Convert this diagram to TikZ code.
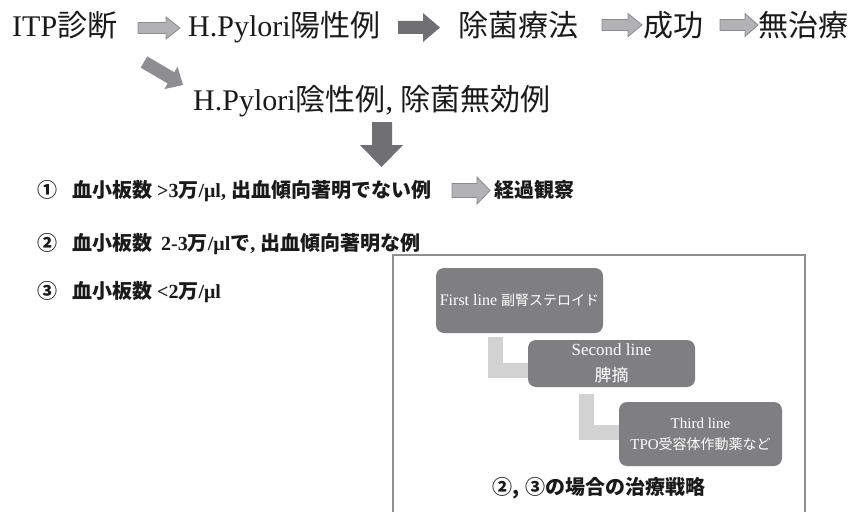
\documentclass[tikz,border=0pt]{standalone}
\usepackage{fontspec}
\setmainfont{Liberation Serif}
\newfontfamily\jp{Noto Sans CJK JP}
\usetikzlibrary{calc}
\definecolor{darkarrow}{HTML}{707072}
\definecolor{lightarrow}{HTML}{B2B2B4}
\definecolor{arrowedge}{HTML}{8C8C8E}
\definecolor{diagarrow}{HTML}{8E8E90}
\definecolor{boxfill}{HTML}{7F7F81}
\definecolor{connfill}{HTML}{D2D2D2}
\definecolor{framecol}{HTML}{8E8E90}
\definecolor{ink}{HTML}{1A1A1A}
% style, x0, x1, xhead, yc, shaft half, head half
\newcommand\blockarr[7]{%
  \filldraw[#1] (#2,#5-#6) -- (#4,#5-#6) -- (#4,#5-#7) -- (#3,#5) -- (#4,#5+#7) -- (#4,#5+#6) -- (#2,#5+#6) -- cycle;}
\begin{document}
\begin{tikzpicture}[x=1pt,y=-1pt,
  toptext/.style={inner sep=0pt,anchor=base west,text=ink,font=\fontsize{30}{36}\selectfont},
  listtext/.style={inner sep=0pt,anchor=base west,text=ink,font=\fontsize{20}{24}\selectfont\bfseries},
  captext/.style={inner sep=0pt,anchor=base,text=ink,font=\fontsize{20}{24}\selectfont\bfseries},
  stepbox/.style={fill=boxfill,draw=none,rounded corners=8pt,text=white,align=center,inner sep=0pt},
  conn/.style={draw=connfill,line width=15pt,line cap=butt,line join=miter},
  lightarr/.style={fill=lightarrow,draw=arrowedge,line width=0.8pt},
  darkarr/.style={fill=darkarrow,draw=none}]
\useasboundingbox (0,0) rectangle (853,511);
\fill[white] (0,0) rectangle (853,511);

% top row
\node[toptext] (itp) at (12,37) {ITP{\jp 診断}};
\node[toptext] (pos) at (188,37) {H.Pylori{\jp 陽性例}};
\node[toptext] (erad) at (458,37) {\jp 除菌療法};
\node[toptext] (succ) at (643,37) {\jp 成功};
\node[toptext] (none) at (758,37) {\jp 無治療};
\node[toptext] (neg) at (193,110) {H.Pylori{\jp 陰性例}, {\jp 除菌無効例}};

\blockarr{lightarr}{138}{180}{166}{28}{5.5}{11}
\blockarr{darkarr}{398}{440}{423}{27.5}{6.5}{14.5}
\blockarr{lightarr}{602}{642}{628}{25}{5.5}{11.5}
\blockarr{lightarr}{720}{758}{745}{25}{5.5}{11.5}
% diagonal arrow
\fill[diagarrow] (147.3,56.4) -- (174.25,72.3) -- (177.6,66.7) -- (183,85) -- (164.35,89.1) -- (167.65,83.5) -- (140.7,67.6) -- cycle;
% down arrow
\fill[darkarrow] (372,122) -- (392,122) -- (392,145) -- (403,145) -- (381.5,167) -- (360,145) -- (372,145) -- cycle;

% list
\node[listtext] (l1) at (37,197) {{\jp ①}\hspace{15pt}{\jp 血小板数} >3{\jp 万}/μl, {\jp 出血傾向著明でない例}};
\blockarr{lightarr}{452}{490}{477}{190.5}{7}{13.5}
\node[listtext] (obs) at (494,197) {\jp 経過観察};
\node[listtext] (l2) at (37,250) {{\jp ②}\hspace{15pt}{\jp 血小板数}\hspace{9pt}2-3{\jp 万}/μl{\jp で}, {\jp 出血傾向著明な例}};
\node[listtext] (l3) at (37,298) {{\jp ③}\hspace{15pt}{\jp 血小板数} <2{\jp 万}/μl};

% frame
\draw[framecol,line width=2.5pt] (393,515) -- (393,255) -- (805,255) -- (805,515);

% strategy boxes
\node[stepbox,minimum width=167pt,minimum height=65pt,font=\fontsize{16}{18}\selectfont] (b1) at (519.5,300.5)
  {First line {\jp\fontsize{14}{15}\selectfont 副腎ステロイド}};
\node[stepbox,minimum width=167pt,minimum height=47pt,font=\fontsize{17}{26}\selectfont] (b2) at (611.5,363.5)
  {Second line\\{\jp 脾摘}};
\node[stepbox,minimum width=163pt,minimum height=64pt,font=\fontsize{15}{21}\selectfont] (b3) at (700.5,434)
  {Third line\\TPO{\jp\fontsize{14}{21}\selectfont 受容体作動薬など}};

\draw[conn] ($(b1.south west)+(59.5,4)$) |- ($(b2.west)+(0,6.5)$);
\draw[conn] ($(b2.south west)+(58.5,7)$) |- ($(b3.west)+(0,-2)$);

\node[captext] (cap) at (599,494) {{\jp ②,}\hspace{5pt}{\jp ③の場合の治療戦略}};
\end{tikzpicture}
\end{document}
